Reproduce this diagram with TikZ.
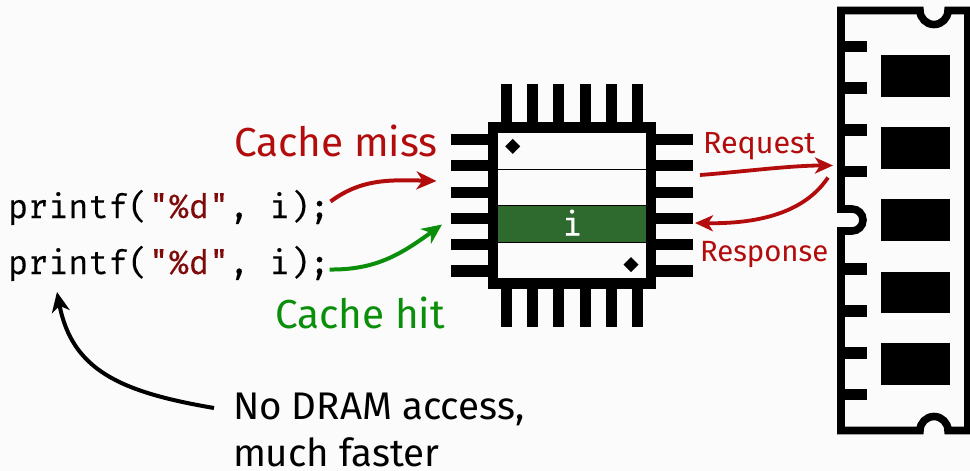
\documentclass[tikz,border=0pt]{standalone}
\usepackage{fontspec}
\setmainfont{Fira Sans}
\setmonofont{Fira Mono}[FakeBold=0.25]
\usetikzlibrary{arrows.meta}
\definecolor{bgc}{HTML}{FBFBFB}
\definecolor{missred}{HTML}{B30C0C}
\definecolor{strred}{HTML}{7F0A0A}
\definecolor{hitgreen}{HTML}{0B8F0B}
\definecolor{linegreen}{HTML}{2E6A2E}
\tikzset{
  x=1pt,y=-1pt,
  blk/.style={fill=black,draw=none},
  lbl/.style={anchor=base west,inner sep=0pt,outer sep=0pt},
  codeline/.style={lbl,font=\ttfamily\fontsize{33.5}{33}\selectfont},
  arr/.style={line width=4pt,-{Stealth[length=20pt,width=18pt,inset=6pt]}},
  thin arr/.style={line width=3.8pt,-{Stealth[length=18pt,width=16pt,inset=5pt]}},
}
\newcommand{\strlit}[1]{\textcolor{strred}{#1}}
\begin{document}
\begin{tikzpicture}
\useasboundingbox (0,0) rectangle (970,471);
\fill[bgc] (0,0) rectangle (970,471);
% chip pins
\foreach \x in {501,527,553,580,606,632}{
  \fill[blk] (\x,84) rectangle (\x+11,122);
  \fill[blk] (\x,289) rectangle (\x+11,326.7);
}
\foreach \y in {134,160,187.2,213.2,239.2,265.4}{
  \fill[blk] (451,\y) rectangle (488,\y+11.2);
  \fill[blk] (655.6,\y) rectangle (693,\y+11.2);
}
% chip body
\fill[blk] (488,122) rectangle (655.6,289);
\fill[bgc] (498.3,133.3) rectangle (645.7,277.7);
\fill[blk] (498.3,168.5) rectangle (645.7,170.3);
\fill[blk] (498.3,205) rectangle (645.7,206.4);
\fill[blk] (498.3,241.4) rectangle (645.7,242.8);
\node[fill=linegreen,minimum width=147.4pt,minimum height=35.2pt,inner sep=0pt,
      text=white,font=\ttfamily\fontsize{33.5}{33}\selectfont,text height=23pt,text depth=0pt] (cacheline) at (572,224) {i};
\fill[blk] (512.7,138.8) -- (520.2,146.3) -- (512.7,153.8) -- (505.2,146.3) -- cycle;
\fill[blk] (631,257.2) -- (638.5,264.7) -- (631,272.2) -- (623.5,264.7) -- cycle;
% DRAM
\draw[line width=7.6pt,miter limit=10]
  (841,10.5) -- (920,10.5) arc[start angle=180,end angle=0,radius=14] -- (968,10.5)
  -- (968,430.5) -- (948,430.5) arc[start angle=0,end angle=-180,radius=14] -- (841,430.5)
  -- (841,231) -- (852,231) arc[start angle=90,end angle=-90,radius=11] -- (841,209) -- cycle;
\foreach \y in {40.7,82.3,124.3,165.7,263.3,305.3,347,388.7}{
  \fill[blk] (845,\y) rectangle (866.7,\y+11.7);
}
\foreach \y in {55,127.3,199.3,271.5,343.3}{
  \fill[blk] (881,\y) rectangle (950,\y+41.9);
}
% code
\node[codeline] (code1) at (8,218) {printf(\strlit{"\%d"}, i);};
\node[codeline] (code2) at (8,274) {printf(\strlit{"\%d"}, i);};
% labels
\node[lbl,text=missred,font=\fontsize{40.5}{40}\selectfont] (miss) at (234,156) {Cache miss};
\node[lbl,text=hitgreen,font=\fontsize{40.5}{40}\selectfont] (hit) at (275,328) {Cache hit};
\node[lbl,text=missred,font=\fontsize{30.5}{30}\selectfont] (req) at (703,153) {Request};
\node[lbl,text=missred,font=\fontsize{29.3}{30}\selectfont] (resp) at (700,261) {Response};
\node[lbl,font=\fontsize{38.5}{38}\selectfont] (note1) at (233,419) {No DRAM access,};
\node[lbl,font=\fontsize{38.5}{38}\selectfont] (note2) at (233,466.5) {much faster};
% connector ends
\coordinate (c1) at (330.5,201.5);
\coordinate (m1) at (436.5,181);
\coordinate (c2) at (329.5,269.5);
\coordinate (m2) at (442,224.5);
\coordinate (rq1) at (700,175);
\coordinate (rq2) at (833,165.5);
\coordinate (rs1) at (828,177.5);
\coordinate (rs2) at (695,223);
\coordinate (n1) at (214,408);
\coordinate (n2) at (57,292);
\draw[arr,missred] (c1) .. controls (360,180) and (385,179.5) .. (m1);
\draw[arr,hitgreen] (c2) .. controls (375,270) and (400,255) .. (m2);
\draw[thin arr,missred] (rq1) .. controls (740,172) and (790,165.5) .. (rq2);
\draw[thin arr,missred] (rs1) .. controls (805,212) and (760,224) .. (rs2);
\draw[arr,black] (n1) .. controls (120,392) and (72,370) .. (n2);
\end{tikzpicture}
\end{document}
